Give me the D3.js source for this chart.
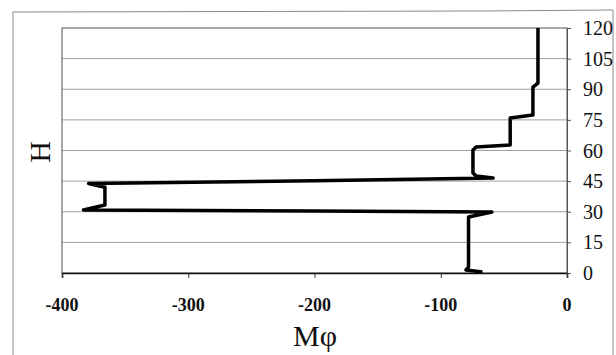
<!DOCTYPE html>
<html>
<head>
<meta charset="utf-8">
<script src="https://cdn.jsdelivr.net/npm/d3@7"></script>
<style>
  body { margin: 0; background: #fff; }
  svg { display: block; }
  .lbl { font-family: "Liberation Serif", "Times New Roman", serif; fill: #111; }
</style>
</head>
<body>
<svg id="graph"></svg>
<script>
// data: moment M-phi along height H
const mphi = [-23, -23, -27, -27, -45, -45, -72, -74.5, -74.5, -72, -58.5, -200, -379, -366, -366, -383, -200, -59.5, -78, -78, -80, -67];
const h    = [120, 93, 91, 77.4, 75.9, 62.7, 61.7, 60.2, 49, 47.5, 46.5, 45.2, 43.8, 42, 33.3, 30.9, 30.4, 29.9, 27.4, 2.9, 1.5, 0.5];

const xTicks = [-400, -300, -200, -100, 0];
const yTicks = [0, 15, 30, 45, 60, 75, 90, 105, 120];

const width = 616;
const height = 355;
const margin = {top: 28, bottom: 82, left: 62, right: 49};

const graph = d3.select('#graph')
  .attr('width', width)
  .attr('height', height);

const x_scale = d3.scaleLinear().domain([-400, 0]).range([margin.left, width - margin.right]);
const y_scale = d3.scaleLinear().domain([0, 120]).range([height - margin.bottom, margin.top]);

// outer frame of the scanned figure
graph.append('path')
  .attr('d', 'M13,360 L13,12 L480,11 L613,10 L613,360')
  .attr('fill', 'none')
  .attr('stroke', '#8a8a8a')
  .attr('stroke-width', 1);

// horizontal gridlines
graph.append('g')
  .selectAll('line')
  .data(yTicks.filter(d => d > 0 && d < 120))
  .join('line')
  .attr('x1', margin.left)
  .attr('x2', width - margin.right)
  .attr('y1', d => y_scale(d))
  .attr('y2', d => y_scale(d))
  .attr('stroke', '#a0a0a0')
  .attr('stroke-width', 1);

// plot border
graph.append('rect')
  .attr('x', margin.left)
  .attr('y', margin.top)
  .attr('width', width - margin.left - margin.right)
  .attr('height', height - margin.top - margin.bottom)
  .attr('fill', 'none')
  .attr('stroke', '#555')
  .attr('stroke-width', 1);

// x axis at bottom (lines from d3.axis, labels drawn below)
const x_axis = d3.axisBottom(x_scale).tickValues(xTicks).tickFormat('').tickSize(5);
const gx = graph.append('g')
  .attr('transform', `translate(0,${height - margin.bottom})`)
  .call(x_axis);
gx.select('.domain').attr('stroke', '#111').attr('stroke-width', 1.6);
gx.selectAll('.tick line').attr('stroke', '#333');

graph.append('g')
  .selectAll('text')
  .data(xTicks)
  .join('text')
  .attr('class', 'lbl')
  .attr('x', d => x_scale(d))
  .attr('y', 311)
  .attr('text-anchor', 'middle')
  .attr('font-size', 18)
  .attr('font-weight', 'bold')
  .text(d => String(d));

// y axis on the right
const y_axis = d3.axisRight(y_scale).tickValues(yTicks).tickFormat('').tickSize(4);
const gy = graph.append('g')
  .attr('transform', `translate(${width - margin.right},0)`)
  .call(y_axis);
gy.select('.domain').attr('stroke', '#555');
gy.selectAll('.tick line').attr('stroke', '#555');

graph.append('g')
  .selectAll('text')
  .data(yTicks)
  .join('text')
  .attr('class', 'lbl')
  .attr('x', 583)
  .attr('y', d => y_scale(d) + 7)
  .attr('font-size', 20)
  .text(d => String(d));

// data line
const line = d3.line()
  .x((d, i) => x_scale(mphi[i]))
  .y(d => y_scale(d));

graph.append('path')
  .datum(h)
  .attr('d', line)
  .attr('fill', 'none')
  .attr('stroke', '#000')
  .attr('stroke-width', 3.5)
  .attr('stroke-linejoin', 'round');

// axis titles
graph.append('text')
  .attr('class', 'lbl')
  .attr('x', 315)
  .attr('y', 346)
  .attr('text-anchor', 'middle')
  .attr('font-size', 30)
  .text('Mφ');

graph.append('text')
  .attr('class', 'lbl')
  .attr('transform', 'translate(50,152) rotate(-90)')
  .attr('text-anchor', 'middle')
  .attr('font-size', 30)
  .text('H');
</script>
</body>
</html>
